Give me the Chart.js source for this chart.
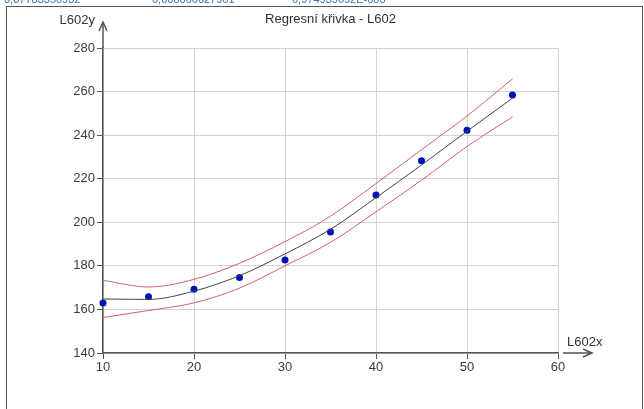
<!DOCTYPE html>
<html lang="cs">
<head>
  <meta charset="UTF-8">
  <title>Regresní křivka - L602</title>
  <script src="https://cdn.jsdelivr.net/npm/chart.js"></script>
  <style>
    html, body { margin: 0; padding: 0; background: #fff; }
    .wrap { width: 644px; height: 409px; position: relative; }
  </style>
</head>
<body>
  <div class="wrap">
    <canvas id="regChart" width="644" height="409"></canvas>
  </div>

  <script>
    // values
    const xValues  = [10, 15, 20, 25, 30, 35, 40, 45, 50, 55];
    const measured = [163.0, 165.8, 169.3, 174.6, 182.7, 195.5, 212.5, 228.3, 242.2, 258.4];
    const fitted   = [164.8, 164.6, 168.4, 175.5, 185.5, 196.8, 211.3, 226.3, 241.8, 257.0];
    const upper    = [173.3, 170.3, 173.8, 181.2, 191.1, 202.8, 217.8, 233.3, 248.8, 265.8];
    const lower    = [156.3, 159.5, 163.0, 169.8, 180.0, 190.8, 204.8, 219.3, 234.8, 248.4];
    const topNumbers = ['0,87783350932', '0,000000027961', '0,974935692E-003'];

    const toPts = arr => xValues.map((x, i) => ({ x: x, y: arr[i] }));
    const FONT = '13px "Liberation Sans", Arial, sans-serif';

    function arrowHead(ctx, x, y, dir) {
      ctx.beginPath();
      if (dir === 'up') {
        ctx.moveTo(x - 4, y + 9); ctx.lineTo(x, y); ctx.lineTo(x + 4, y + 9);
      } else {
        ctx.moveTo(x - 9, y - 4); ctx.lineTo(x, y); ctx.lineTo(x - 9, y + 4);
      }
      ctx.stroke();
    }

    // frame, title, axis arrows and names
    const decorations = {
      id: 'decorations',
      afterDraw(chart) {
        const ctx = chart.ctx;
        const a = chart.chartArea;
        ctx.save();
        ctx.strokeStyle = '#555';
        ctx.lineWidth = 1;
        ctx.strokeRect(6.5, 6.5, 636, 420);

        ctx.fillStyle = '#3a6fb0';
        ctx.font = '11px "Liberation Sans", Arial, sans-serif';
        ctx.textBaseline = 'alphabetic';
        ctx.textAlign = 'left';
        ctx.fillText(topNumbers[0], 4, 3);
        ctx.fillText(topNumbers[1], 152, 3);
        ctx.fillText(topNumbers[2], 292, 3);

        ctx.fillStyle = '#333';
        ctx.font = FONT;
        ctx.textAlign = 'center';
        ctx.textBaseline = 'middle';
        ctx.fillText('Regresní křivka - L602', (a.left + a.right) / 2, 19);

        ctx.strokeStyle = '#555';
        ctx.lineWidth = 1.5;
        ctx.beginPath();
        ctx.moveTo(a.left, a.top); ctx.lineTo(a.left, 23);
        ctx.stroke();
        arrowHead(ctx, a.left, 22, 'up');
        ctx.beginPath();
        ctx.moveTo(a.right + 5, a.bottom); ctx.lineTo(a.right + 33, a.bottom);
        ctx.stroke();
        arrowHead(ctx, a.right + 34, a.bottom, 'right');

        ctx.textAlign = 'right';
        ctx.fillText('L602y', a.left - 8, 20);
        ctx.textAlign = 'left';
        ctx.fillText('L602x', a.right + 9, a.bottom - 11);
        ctx.restore();
      }
    };

    new Chart(document.getElementById('regChart'), {
      type: 'scatter',
      data: {
        datasets: [
          {
            label: 'Horní mez',
            data: toPts(upper),
            showLine: true,
            borderColor: '#d0606e',
            borderWidth: 1,
            pointRadius: 0,
            cubicInterpolationMode: 'monotone'
          },
          {
            label: 'Dolní mez',
            data: toPts(lower),
            showLine: true,
            borderColor: '#d0606e',
            borderWidth: 1,
            pointRadius: 0,
            cubicInterpolationMode: 'monotone'
          },
          {
            label: 'Regrese',
            data: toPts(fitted),
            showLine: true,
            borderColor: '#3a4848',
            borderWidth: 1,
            pointRadius: 0,
            cubicInterpolationMode: 'monotone'
          },
          {
            label: 'L602',
            data: toPts(measured),
            showLine: false,
            clip: false,
            pointRadius: 3.5,
            pointBackgroundColor: '#0010b8',
            pointBorderColor: '#0010b8',
            pointBorderWidth: 0
          }
        ]
      },
      options: {
        responsive: false,
        animation: false,
        layout: { padding: { left: 0, right: 86, top: 48, bottom: 0 } },
        plugins: {
          legend: { display: false },
          tooltip: { enabled: false }
        },
        scales: {
          x: {
            type: 'linear',
            min: 10, max: 60,
            afterFit: s => { s.height = 56; },
            ticks: { stepSize: 10, color: '#3c3c3c', font: { family: '"Liberation Sans", Arial, sans-serif', size: 13 }, padding: 1 },
            grid: { color: '#d4d4d4', tickColor: '#555', tickLength: 6, lineWidth: 1 },
            border: { color: '#555', width: 1.5 }
          },
          y: {
            min: 140, max: 280,
            afterFit: s => { s.width = 103; },
            ticks: { stepSize: 20, color: '#3c3c3c', font: { family: '"Liberation Sans", Arial, sans-serif', size: 13 }, padding: 2 },
            grid: { color: '#d4d4d4', tickColor: '#555', tickLength: 6, lineWidth: 1 },
            border: { color: '#555', width: 1.5 }
          }
        }
      },
      plugins: [decorations]
    });
  </script>
</body>
</html>
